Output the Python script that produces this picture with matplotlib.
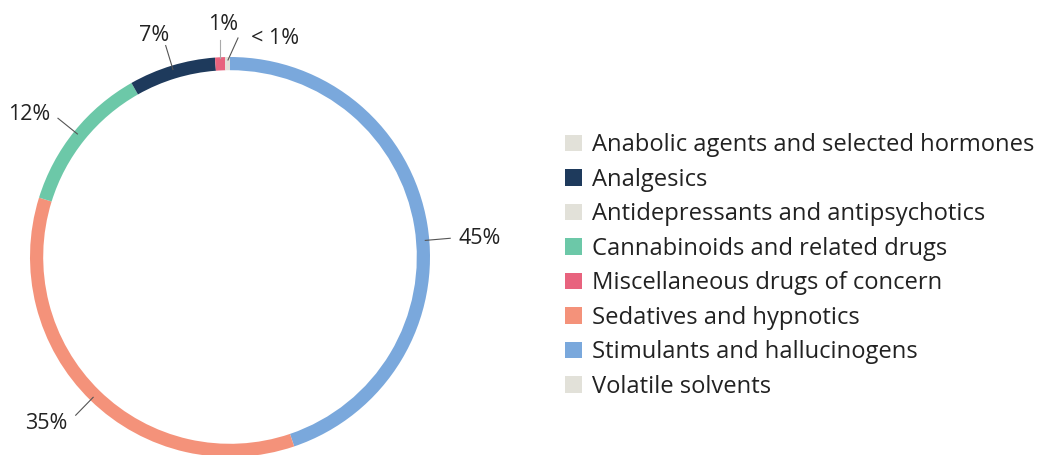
import matplotlib
matplotlib.use("Agg")
import matplotlib.pyplot as plt
from matplotlib.patches import Patch
import numpy as np

# Share of drug categories (per cent)
categories = [
    "Anabolic agents and selected hormones",
    "Analgesics",
    "Antidepressants and antipsychotics",
    "Cannabinoids and related drugs",
    "Miscellaneous drugs of concern",
    "Sedatives and hypnotics",
    "Stimulants and hallucinogens",
    "Volatile solvents",
]
shares = [0.0, 7.0, 0.4, 12.0, 0.8, 35.0, 44.8, 0.0]
colors = ["#e2e1d9", "#1e3a5c", "#e2e1d9", "#6cc8a8",
          "#e8637e", "#f4927a", "#7aa8dc", "#e2e1d9"]

# Ring is drawn clockwise from 12 o'clock, largest share first
ring_order = [6, 5, 3, 1, 4, 2]

plt.rcParams["font.family"] = ["Open Sans", "DejaVu Sans"]
TEXT = "#222222"
LEADER = "#555555"
LABEL_FS = 15.5

W, H = 1043, 455
fig = plt.figure(figsize=(W / 100, H / 100), dpi=100)
fig.patch.set_facecolor("white")

cx, cy, R = 230, 455 - 257, 200
ax = fig.add_axes([(cx - R) / W, (cy - R) / H, 2 * R / W, 2 * R / H])
ax.axis("off")

vals = [shares[i] for i in ring_order]
cols = [colors[i] for i in ring_order]
wedges, _ = ax.pie(vals, colors=cols, startangle=90, counterclock=False,
                   radius=1.0, wedgeprops=dict(width=0.066, linewidth=0),
                   frame=False)
for w in wedges:
    w.set_clip_on(False)
ax.set_xlim(-1, 1)
ax.set_ylim(-1, 1)


def pct_label(v):
    return "< 1%" if v < 0.5 else f"{round(v):.0f}%"


# angular nudges (degrees) for leader placement on crowded slices
angle_nudge = {6: 4.5}
label_nudge = {5: (0.0, -0.04), 1: (0.0, -0.01), 3: (0.0, 0.02)}

total = sum(vals)
start = 0.0
for idx, v in zip(ring_order, vals):
    mid = start + v / total * 360 / 2 + angle_nudge.get(idx, 0.0)
    start += v / total * 360
    th = np.deg2rad(mid)
    dx, dy = np.sin(th), np.cos(th)
    txt = pct_label(v)
    if v < 0.5:
        # tiny slice at the top: angled leader to the right
        x0, y0 = -0.01, 0.985
        x1, y1 = x0 + 0.05, y0 + 0.11
        ax.plot([x0, x1], [y0, y1], color=LEADER, lw=0.8, clip_on=False)
        ax.text(x1 + 0.065, y1, txt, ha="left", va="center",
                fontsize=LABEL_FS, color=TEXT)
        continue
    if v < 2:
        # small slice near the top: vertical leader
        ax.plot([dx, dx], [0.995, 1.085], color="#aaaaaa", lw=0.8,
                clip_on=False)
        ax.text(dx + 0.015, 1.165, txt, ha="center", va="center",
                fontsize=LABEL_FS, color=TEXT)
        continue
    r0, r1 = 0.98, 1.105
    ax.plot([r0 * dx, r1 * dx], [r0 * dy, r1 * dy], color=LEADER,
            lw=0.8, clip_on=False)
    nx, ny = label_nudge.get(idx, (0.0, 0.0))
    if abs(dx) < 0.3:
        tx, ty, ha = r1 * dx - 0.06, r1 * dy + 0.06, "center"
    else:
        ha = "left" if dx > 0 else "right"
        tx, ty = r1 * dx + np.sign(dx) * 0.04, r1 * dy
    ax.text(tx + nx, ty + ny, txt, ha=ha, va="center", fontsize=LABEL_FS,
            color=TEXT)

handles = [Patch(facecolor=c, edgecolor="none") for c in colors]
leg = fig.legend(handles, categories, loc="center left",
                 bbox_to_anchor=(565 / W, 1 - 266 / H), frameon=False,
                 fontsize=17.1, handlelength=0.7, handleheight=0.7,
                 handletextpad=0.42, labelspacing=0.44, borderpad=0,
                 borderaxespad=0)
for t in leg.get_texts():
    t.set_color(TEXT)

fig.savefig("out.png", dpi=100, facecolor="white")
